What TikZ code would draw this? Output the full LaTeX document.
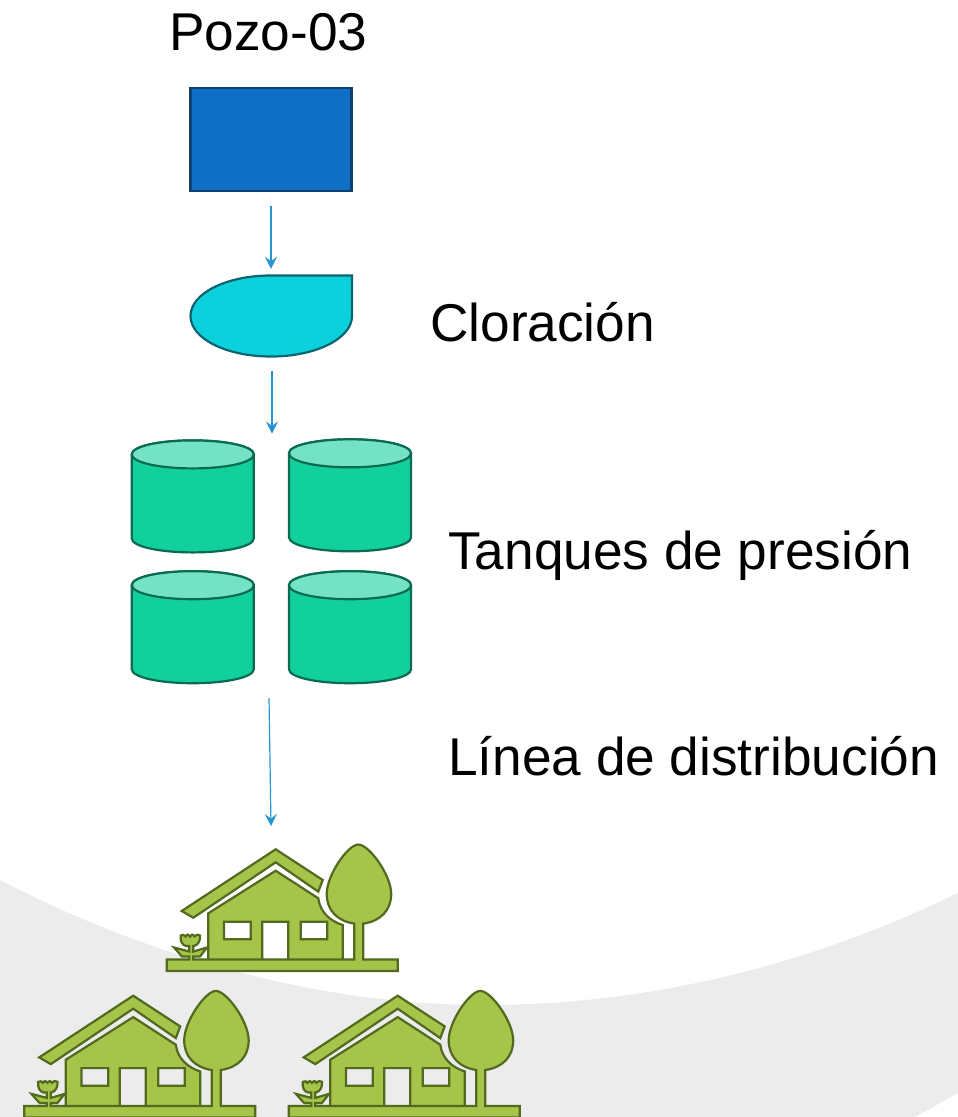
\documentclass[tikz,border=0pt]{standalone}
\usepackage{fontspec}
\setmainfont{Liberation Sans}
\usetikzlibrary{arrows.meta}
\definecolor{bgGrey}{HTML}{ECECEC}
\definecolor{boxBlue}{HTML}{0E6FC4}
\definecolor{boxEdge}{HTML}{0F3F6E}
\definecolor{dropFill}{HTML}{0CD0DC}
\definecolor{dropEdge}{HTML}{0B6570}
\definecolor{tankFill}{HTML}{12D09B}
\definecolor{tankTop}{HTML}{74E3C5}
\definecolor{tankEdge}{HTML}{0B6B50}
\definecolor{houseFill}{HTML}{A6C34A}
\definecolor{houseEdge}{HTML}{526A1E}
\definecolor{arrowBlue}{HTML}{2596D1}
\tikzset{
  x=1pt,y=-1pt,
  lbl/.style={font=\fontsize{53.2}{60}\selectfont,text=black,inner sep=0pt,anchor=base west},
  flow/.style={draw=arrowBlue,line width=1.2pt,-{Stealth[length=12pt,width=12pt,inset=4.5pt]}},
  housepart/.style={fill=houseFill,draw=houseEdge,line width=2.2pt,line join=miter,even odd rule},
  tank/.pic={
    \path[fill=tankFill,draw=tankEdge,line width=2.2pt]
      (-61,-42) -- (-61,42) .. controls (-61,50) and (-34,56) .. (0,56)
      .. controls (34,56) and (61,50) .. (61,42) -- (61,-42)
      .. controls (61,-50) and (34,-56) .. (0,-56)
      .. controls (-34,-56) and (-61,-50) .. (-61,-42) -- cycle;
    \path[fill=tankTop,draw=tankEdge,line width=2.2pt]
      (-61,-42) .. controls (-61,-50) and (-34,-56) .. (0,-56)
      .. controls (34,-56) and (61,-50) .. (61,-42)
      .. controls (61,-34) and (34,-28) .. (0,-28)
      .. controls (-34,-28) and (-61,-34) .. (-61,-42) -- cycle;
  },
  house/.pic={
    % roof
    \path[housepart] (181.7,911) -- (275.7,849.3) -- (322.7,880) -- (318.3,891.7) -- (275.7,862.3) -- (193.3,917.7) -- cycle;
    % tree canopy and trunk, ground, flower and house body
    \path[housepart] (354.3,959.5) -- (354.3,923.6)
      .. controls (337,921) and (326.7,910) .. (326.7,894)
      .. controls (326.7,875) and (348,844.5) .. (358.3,844.5)
      .. controls (369,844.5) and (391.2,875) .. (391.2,894)
      .. controls (391.2,910) and (381,921) .. (363.3,923.6)
      -- (363.3,959.5) -- (397.8,959.5) -- (397.8,971) -- (166.7,971) -- (166.7,959.5)
      -- (189.3,959.5) -- (189.3,956.5) -- (182,956.5) -- (174,947.5) -- (189.3,951.5)
      -- (189.3,946) -- (186,946)
      .. controls (182,945) and (180,941) .. (180.7,935.5)
      .. controls (183,934) and (184,935) .. (185.5,936.5)
      .. controls (187,934) and (189,934) .. (190,936.5)
      .. controls (191,934) and (193,934) .. (194.5,936.5)
      .. controls (196,935) and (197,934) .. (200,935.5)
      .. controls (200.5,941) and (198,945) .. (194,946)
      -- (193.3,946) -- (193.3,951.5) -- (207,947.5) -- (200,956.5) -- (193.3,956.5) -- (193.3,959.5)
      -- (208.3,959.5) -- (208.3,913.3) -- (275.7,870.7) -- (318.3,898.3)
      .. controls (320,912) and (330,921) .. (342.7,925) -- (342.7,959.5) -- (288.3,959.5)
      -- (288.3,921.7) -- (262.3,921.7) -- (262.3,959.5) -- (208.3,959.5) -- cycle
      (224,921.7) rectangle (250.7,939.3)
      (300.7,921.7) rectangle (327.3,939.3);
  }
}
\begin{document}
\begin{tikzpicture}
\useasboundingbox (0,0) rectangle (958,1117);
\path[fill=white] (0,0) rectangle (958,1117);
\path[fill=bgGrey] (0,880) .. controls (150,958) and (320,1005) .. (485,1005)
  .. controls (650,1005) and (810,965) .. (958,893) -- (958,1093) -- (915,1117) -- (0,1117) -- cycle;

\node[lbl] (pozo) at (169,50) {Pozo-03};
\node[lbl] (clor) at (430,341) {Cloración};
\node[lbl] (tanq) at (448,569) {Tanques de presión};
\node[lbl] (linea) at (448,775) {Línea de distribución};

\node[draw=boxEdge,fill=boxBlue,line width=2.2pt,minimum width=161pt,minimum height=103pt,inner sep=0pt] (well) at (271,139.5) {};

\path[fill=dropFill,draw=dropEdge,line width=2.2pt]
  (352,275.5) -- (352,316)
  .. controls (352,338.6) and (315.7,356.5) .. (271,356.5)
  .. controls (226.3,356.5) and (190.5,338.6) .. (190.5,316)
  .. controls (190.5,293.4) and (226.3,275.5) .. (271,275.5) -- cycle;
\node[inner sep=0pt,minimum width=162pt,minimum height=81pt] (drop) at (271,316) {};

\pic at (192.8,496.4) {tank};
\pic at (350,495.3) {tank};
\pic at (192.8,627.2) {tank};
\pic at (350,627.2) {tank};

\coordinate (tanksTop) at (272,433.5);
\coordinate (tanksBottom) at (269,698);
\coordinate (homes) at (271,826);

\draw[flow,shorten >=6.5pt,shorten <=14pt] (well.south) -- (drop.north);
\draw[flow,shorten <=14pt] (drop.south -| tanksTop) -- (tanksTop);
\draw[flow] (tanksBottom) -- (homes);

\pic at (0,0) {house};
\pic at (-142.5,146.4) {house};
\pic at (122,146.4) {house};
\end{tikzpicture}
\end{document}
